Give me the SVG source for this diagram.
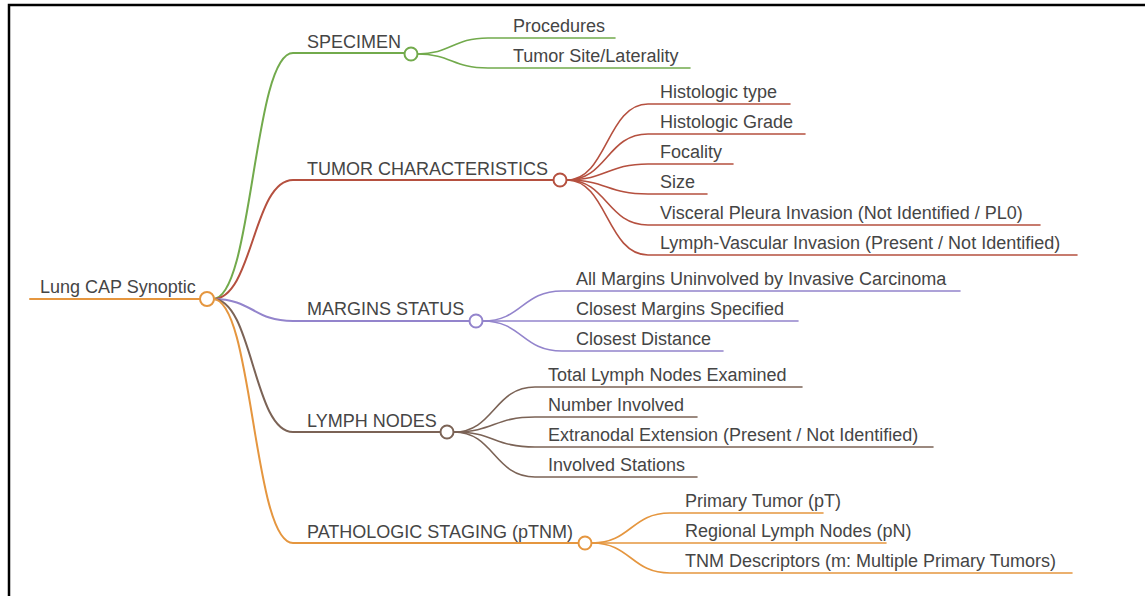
<svg xmlns="http://www.w3.org/2000/svg" width="1145" height="596" viewBox="0 0 1145 596">
<style>
text{font-family:"Liberation Sans",Arial,sans-serif;font-size:18px;fill:#454545}
.l{fill:none;stroke-width:2;stroke-linecap:round}
.s{fill:none;stroke-width:1.6;stroke-linecap:round}
.c{fill:#fff;stroke-width:2}
.g{stroke:#72aa4c}.r{stroke:#b5503f}.p{stroke:#9384cc}.b{stroke:#7b6356}.o{stroke:#e5963f}
</style>
<rect width="1145" height="596" fill="#fff"/>
<path d="M9,596 V5 H1145" fill="none" stroke="#000" stroke-width="2.5"/>
<g id="connectors">
<path class="l o" d="M30,299 H200"/>
<path class="l g" d="M213,299 C253,299 253,53 293,53 H405"/>
<path class="l r" d="M213,299 C253,299 253,180 293,180 H553"/>
<path class="l p" d="M213,299 C253,299 253,321 293,321 H469"/>
<path class="l b" d="M213,299 C253,299 253,432 293,432 H440"/>
<path class="l o" d="M213,299 C253,299 253,543 293,543 H578"/>
<path class="s g" d="M417,54 C452,54 452,38 488,38 H615"/>
<path class="s g" d="M417,54 C452,54 452,68 488,68 H690"/>
<path class="s r" d="M567,180 C607,180 607,104 648,104 H790"/>
<path class="s r" d="M567,180 C607,180 607,134 648,134 H805"/>
<path class="s r" d="M567,180 C607,180 607,164 648,164 H733"/>
<path class="s r" d="M567,180 C607,180 607,194 648,194 H707"/>
<path class="s r" d="M567,180 C607,180 607,225 648,225 H1040"/>
<path class="s r" d="M567,180 C607,180 607,255 648,255 H1077"/>
<path class="s p" d="M483,321 C522,321 522,291 562,291 H960"/>
<path class="s p" d="M483,321 C522,321 522,321 562,321 H798"/>
<path class="s p" d="M483,321 C522,321 522,351 562,351 H723"/>
<path class="s b" d="M454,432 C494,432 494,387 535,387 H802"/>
<path class="s b" d="M454,432 C494,432 494,417 535,417 H697"/>
<path class="s b" d="M454,432 C494,432 494,447 535,447 H933"/>
<path class="s b" d="M454,432 C494,432 494,477 535,477 H697"/>
<path class="s o" d="M592,543 C631,543 631,513 670,513 H823"/>
<path class="s o" d="M592,543 C631,543 631,543 670,543 H886"/>
<path class="s o" d="M592,543 C631,543 631,573 670,573 H1072"/>
</g>
<g id="root"><text x="40" y="293">Lung CAP Synoptic</text><circle class="c o" cx="207" cy="299" r="7"/></g>
<g id="specimen"><text x="307" y="48">SPECIMEN</text><circle class="c g" cx="411" cy="54" r="6.5"/></g>
<g id="procedures"><text x="513" y="32">Procedures</text></g>
<g id="tumor-site"><text x="513" y="62">Tumor Site/Laterality</text></g>
<g id="tumor"><text x="307" y="175">TUMOR CHARACTERISTICS</text><circle class="c r" cx="560" cy="180" r="6.5"/></g>
<g id="hist-type"><text x="660" y="98">Histologic type</text></g>
<g id="hist-grade"><text x="660" y="128">Histologic Grade</text></g>
<g id="focality"><text x="660" y="158">Focality</text></g>
<g id="size"><text x="660" y="188">Size</text></g>
<g id="visceral"><text x="660" y="219">Visceral Pleura Invasion (Not Identified / PL0)</text></g>
<g id="lvi"><text x="660" y="249">Lymph-Vascular Invasion (Present / Not Identified)</text></g>
<g id="margins"><text x="307" y="315">MARGINS STATUS</text><circle class="c p" cx="476" cy="321" r="6.5"/></g>
<g id="all-margins"><text x="576" y="285">All Margins Uninvolved by Invasive Carcinoma</text></g>
<g id="closest-margins"><text x="576" y="315">Closest Margins Specified</text></g>
<g id="closest-distance"><text x="576" y="345">Closest Distance</text></g>
<g id="lymph"><text x="307" y="427">LYMPH NODES</text><circle class="c b" cx="447" cy="432" r="6.5"/></g>
<g id="total-ln"><text x="548" y="381">Total Lymph Nodes Examined</text></g>
<g id="number-involved"><text x="548" y="411">Number Involved</text></g>
<g id="extranodal"><text x="548" y="441">Extranodal Extension (Present / Not Identified)</text></g>
<g id="stations"><text x="548" y="471">Involved Stations</text></g>
<g id="staging"><text x="307" y="538">PATHOLOGIC STAGING (pTNM)</text><circle class="c o" cx="585" cy="543" r="6.5"/></g>
<g id="pt"><text x="685" y="507">Primary Tumor (pT)</text></g>
<g id="pn"><text x="685" y="537">Regional Lymph Nodes (pN)</text></g>
<g id="tnm"><text x="685" y="567">TNM Descriptors (m: Multiple Primary Tumors)</text></g>
</svg>
